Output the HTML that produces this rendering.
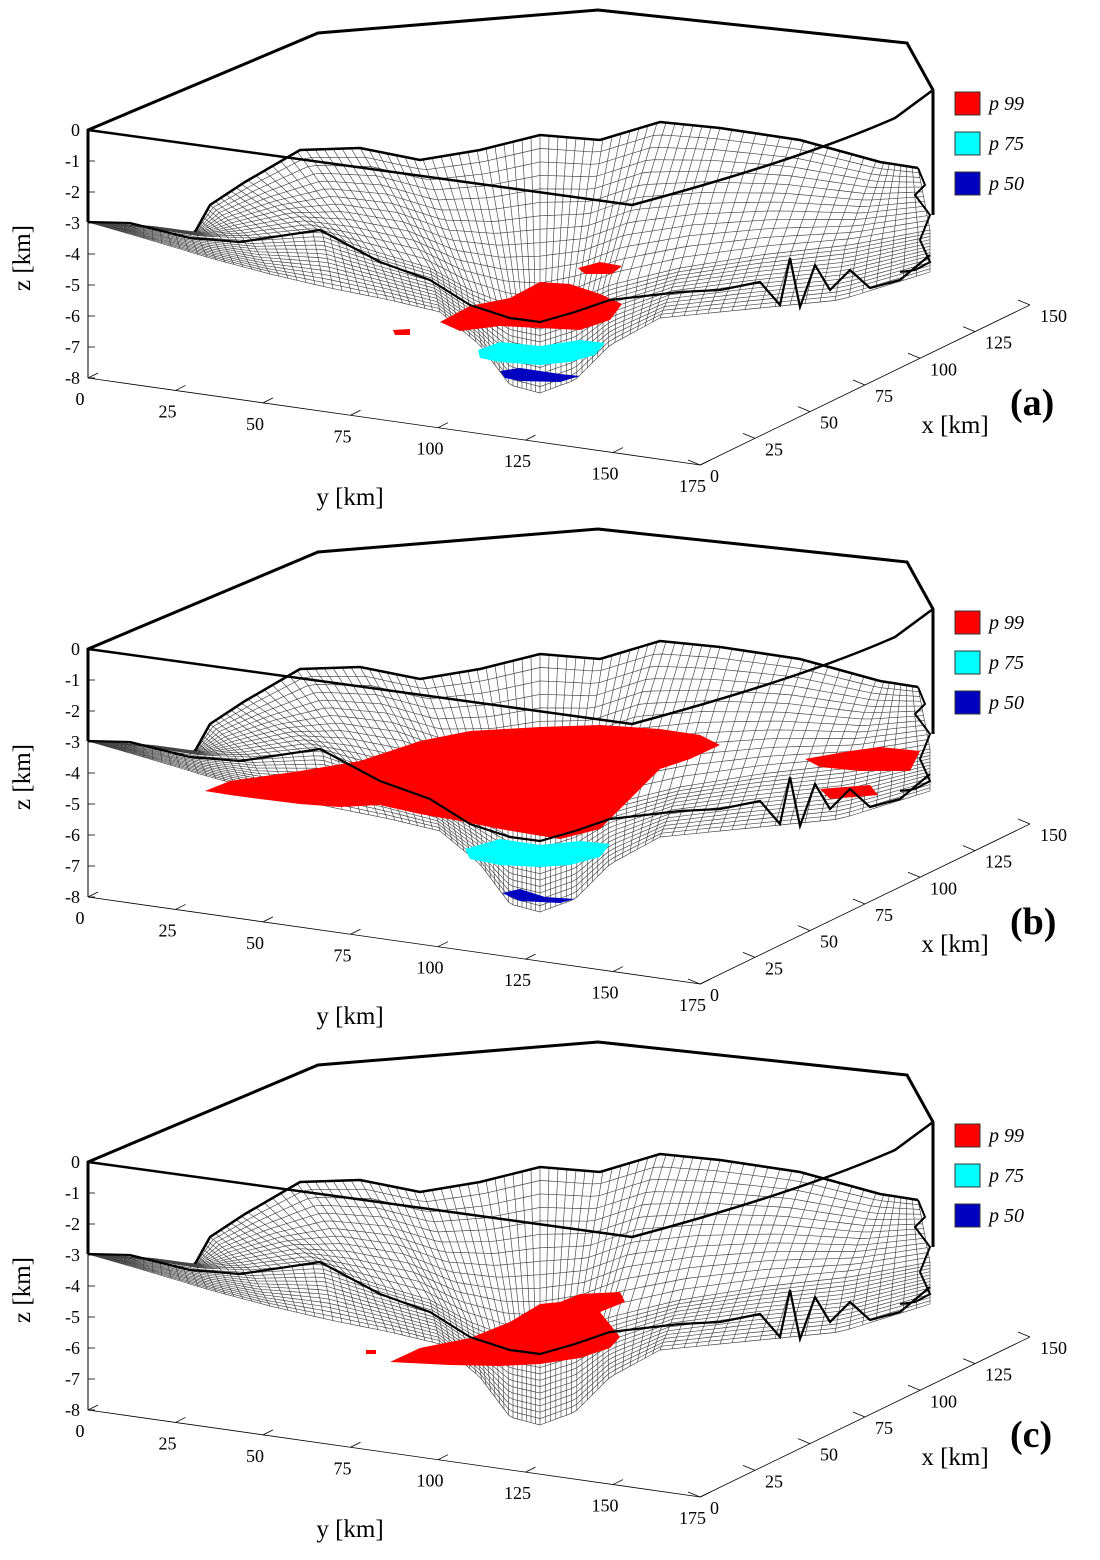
<!DOCTYPE html>
<html><head><meta charset="utf-8">
<style>
html,body{margin:0;padding:0;background:#fff;}
svg{display:block;font-family:"Liberation Serif",serif;}
</style></head>
<body>
<svg id="fig" width="1100" height="1560" viewBox="0 0 1100 1560" xmlns="http://www.w3.org/2000/svg"></svg>
<script>
// ---- data ----
const panelLabels = ["(a)", "(b)", "(c)"];
const panelOffsets = [0, 519, 1032];
const zTicks = [0, -1, -2, -3, -4, -5, -6, -7, -8];
const yTicks = [0, 25, 50, 75, 100, 125, 150, 175];
const xTicks = [0, 25, 50, 75, 100, 125, 150];
const legendNames = ["p 99", "p 75", "p 50"];
const legendColors = ["#ff0000", "#00ffff", "#0000c0"];
// surface control profiles (screen coords within a panel)
const frontEdge = [[88,222],[150,240],[210,258],[270,274],[330,288],[390,300],[440,312],[480,345],[510,385],[540,393],[575,380],[610,345],[660,318],[740,310],[840,300],[930,272]];
const midLine = [[88,222],[150,228],[200,236],[250,238],[320,232],[370,250],[430,268],[470,290],[510,305],[540,310],[575,300],[610,285],[680,268],[760,255],[850,245],[930,230]];
const backEdge = [[88,222],[150,226],[195,232],[210,205],[245,182],[300,150],[360,148],[420,160],[480,150],[540,135],[600,140],[660,122],[720,128],[800,140],[880,162],[918,168]];
const sectionLine = [[88,222],[130,223],[190,238],[240,242],[320,230],[380,262],[430,280],[470,305],[510,318],[540,322],[575,312],[610,300],[680,292],[720,290],[760,282],[780,305],[790,258],[800,307],[815,265],[830,290],[850,270],[870,288],[900,280],[930,255]];
const blobs = [
 [ {c:"#ff0000",p:[[440,322],[470,306],[510,298],[540,282],[570,284],[600,294],[622,304],[610,320],[580,330],[540,328],[500,326],[460,331]]},
   {c:"#ff0000",p:[[578,268],[600,262],[622,266],[612,274],[585,274]]},
   {c:"#ff0000",p:[[393,330],[410,329],[410,335],[395,335]]},
   {c:"#00ffff",p:[[478,350],[500,342],[540,346],[580,340],[605,343],[595,355],[570,362],[540,365],[500,362],[480,358]]},
   {c:"#0000c0",p:[[500,371],[520,368],[560,374],[580,376],[560,382],[520,381],[505,378]]} ],
 [ {c:"#ff0000",p:[[205,272],[230,262],[300,252],[360,242],[420,222],[470,212],[540,208],[600,206],[660,210],[700,216],[720,226],[690,240],[660,250],[640,270],[620,290],[600,310],[560,320],[500,310],[460,302],[420,295],[380,286],[340,288],[300,285],[260,280],[230,276]]},
   {c:"#ff0000",p:[[805,240],[850,232],[880,228],[920,232],[910,252],[860,252],[820,248]]},
   {c:"#ff0000",p:[[820,270],[870,266],[878,276],[830,280]]},
   {c:"#00ffff",p:[[465,330],[500,320],[540,326],[580,322],[610,325],[600,338],[570,346],[540,348],[500,346],[470,340]]},
   {c:"#0000c0",p:[[502,374],[520,370],[545,378],[575,380],[560,384],[520,382]]} ],
 [ {c:"#ff0000",p:[[390,330],[420,316],[470,306],[510,290],[540,272],[560,270],[580,262],[620,260],[625,270],[600,280],[620,305],[610,316],[580,326],[540,332],[500,334],[450,333]]},
   {c:"#ff0000",p:[[366,318],[376,318],[376,322],[366,322]]} ]
];
const NS = "http://www.w3.org/2000/svg";
const svg = document.getElementById("fig");
function mk(tag, attrs, parent){const e=document.createElementNS(NS,tag);for(const k in attrs)e.setAttribute(k,attrs[k]);(parent||svg).appendChild(e);return e;}
function sample(arr,t){const f=t*(arr.length-1);const i=Math.min(Math.floor(f),arr.length-2);const r=f-i;return [arr[i][0]*(1-r)+arr[i+1][0]*r, arr[i][1]*(1-r)+arr[i+1][1]*r];}
function surf(u,v){const a=sample(frontEdge,u),m=sample(midLine,u),b=sample(backEdge,u);
  if(v<0.5){const s=v/0.5;return [a[0]*(1-s)+m[0]*s,a[1]*(1-s)+m[1]*s];}
  const s=(v-0.5)/0.5;return [m[0]*(1-s)+b[0]*s,m[1]*(1-s)+b[1]*s];}
function pts(a){return a.map(p=>p[0].toFixed(1)+","+p[1].toFixed(1)).join(" ");}
function zY(z){return 130 + (-z)*31;}
function yAxisPt(y){return [88 + y*3.5, 378 + y*0.497];}
function xAxisPt(x){return [700 + x*2.2, 465 - x*1.067];}

panelOffsets.forEach((off,pi)=>{
  const g = mk("g",{transform:"translate(0,"+off+")"});
  
  
  const mg = mk("g",{fill:"none",stroke:"#444","stroke-width":"0.65"},g);
  
  
  const NR=26, NC=100;
  for(let r=0;r<=NR;r++){const row=[];for(let c=0;c<=NC;c++)row.push(surf(c/NC,r/NR));mk("polyline",{points:pts(row)},mg);}
  for(let c=0;c<=NC;c++){const col=[];for(let r=0;r<=NR;r++)col.push(surf(c/NC,r/NR));mk("polyline",{points:pts(col)},mg);}
  const side = mk("polyline",{points:"918,168 925,185 915,195 930,215 920,240 930,262 915,270 900,272",fill:"none",stroke:"#000","stroke-width":"2"},g);
  
  
  blobs[pi].forEach((b,bi)=>{const e=mk("polygon",{points:pts(b.p),fill:b.c},g);
    
    });
  const top = mk("polyline",{points:pts(backEdge.slice(2)),fill:"none",stroke:"#000","stroke-width":"2.5"},g);
  
  
  const mid = mk("polyline",{points:pts(sectionLine),fill:"none",stroke:"#000","stroke-width":"2.2"},g);
  
  
  const box = mk("polyline",{points:"88,222 88,130 318,33 598,10 907,43 933,90 933,215",fill:"none",stroke:"#000","stroke-width":"3"},g);
  
  
  const front = mk("path",{d:"M88,130 L632,205 Q800,160 895,118 L933,90",fill:"none",stroke:"#000","stroke-width":"2.5"},g);
  
  
  const za = mk("line",{x1:88,y1:222,x2:88,y2:378,stroke:"#000","stroke-width":"1"},g);
  
  
  zTicks.forEach(t=>{const y=zY(t);mk("line",{x1:88,y1:y,x2:95,y2:y,stroke:"#000","stroke-width":"0.8"},g);
    const tx=mk("text",{x:80,y:y+6,"font-size":"18","text-anchor":"end"},g);tx.textContent=t;
    
    });
  const zl = mk("text",{x:0,y:0,"font-size":"25",transform:"translate(30,258) rotate(-90)","text-anchor":"middle"},g);zl.textContent="z [km]";
  
  
  const y0=yAxisPt(0),y1=yAxisPt(175);
  const ya = mk("line",{x1:y0[0],y1:y0[1],x2:y1[0],y2:y1[1],stroke:"#000","stroke-width":"0.8"},g);
  
  
  yTicks.forEach(t=>{const p=yAxisPt(t);mk("line",{x1:p[0],y1:p[1],x2:p[0]+10,y2:p[1]-5,stroke:"#000","stroke-width":"0.8"},g);
    const tx=mk("text",{x:p[0]-8,y:p[1]+27,"font-size":"18","text-anchor":"middle"},g);tx.textContent=t;
    
    });
  const yl = mk("text",{x:350,y:505,"font-size":"25","text-anchor":"middle"},g);yl.textContent="y [km]";
  
  
  const x0=xAxisPt(0),x1=xAxisPt(150);
  const xa = mk("line",{x1:x0[0],y1:x0[1],x2:x1[0],y2:x1[1],stroke:"#000","stroke-width":"0.8"},g);
  
  
  xTicks.forEach(t=>{const p=xAxisPt(t);mk("line",{x1:p[0],y1:p[1],x2:p[0]-12,y2:p[1]-5,stroke:"#000","stroke-width":"0.8"},g);
    const tx=mk("text",{x:p[0]+10,y:p[1]+17,"font-size":"18"},g);tx.textContent=t;
    
    });
  const xl = mk("text",{x:955,y:433,"font-size":"25","text-anchor":"middle"},g);xl.textContent="x [km]";
  
  
  legendNames.forEach((n,i)=>{const y=92+i*40;
    const r=mk("rect",{x:955,y:y,width:25,height:23,fill:legendColors[i],stroke:"#333","stroke-width":"1"},g);
    
    
    const tx=mk("text",{x:989,y:y+18,"font-size":"20","font-style":"italic"},g);tx.textContent=n;
    
    });
  const pl = mk("text",{x:1010,y:415,"font-size":"38","font-weight":"bold"},g);pl.textContent=panelLabels[pi];
  
  
});
</script>
</body></html>
